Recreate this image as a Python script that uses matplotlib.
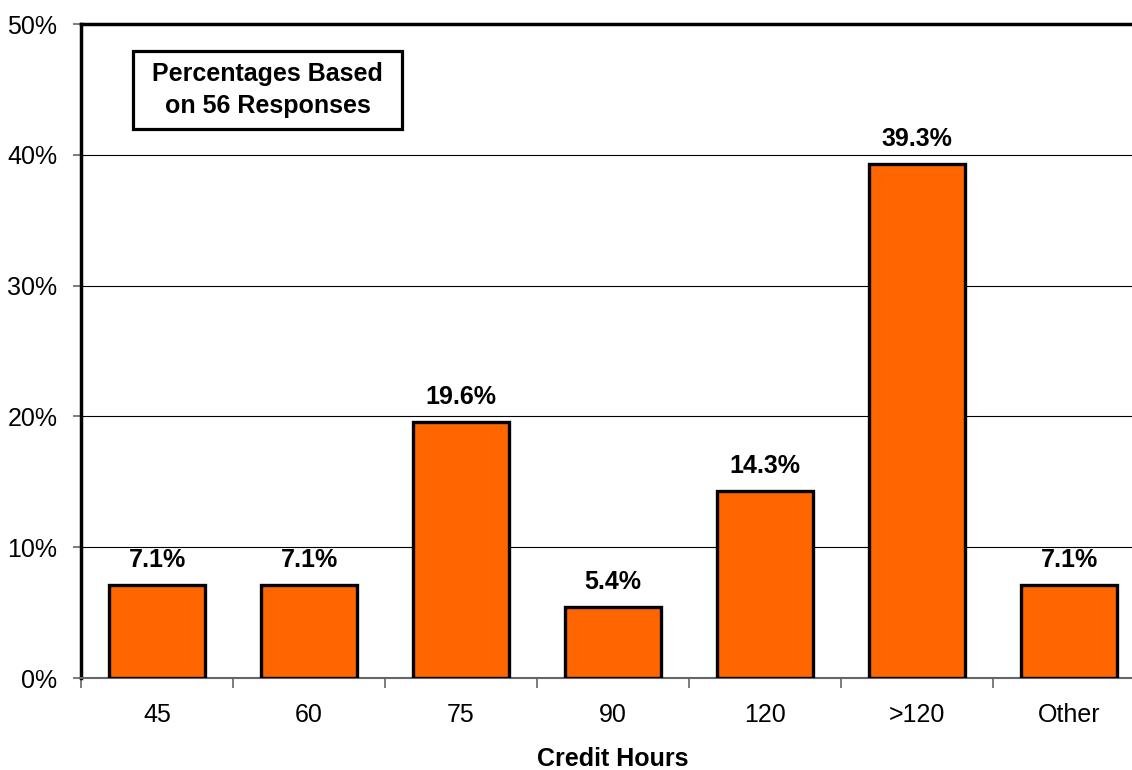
import numpy as np
import matplotlib.pyplot as plt
from matplotlib.patches import Rectangle

categories = ["45", "60", "75", "90", "120", ">120", "Other"]
values = [7.1, 7.1, 19.6, 5.4, 14.3, 39.3, 7.1]
y_ticks = [0, 10, 20, 30, 40, 50]

plt.rcParams['font.family'] = ['Liberation Sans', 'DejaVu Sans']

W, H = 1132, 770
fig = plt.figure(figsize=(W / 100, H / 100), dpi=100)
# axes runs past the right edge, as in the original
left, right, top, bottom = 81, 1145, 24, 678
ax = fig.add_axes([left / W, 1 - bottom / H, (right - left) / W, (bottom - top) / H])

x = np.arange(len(categories))
ax.bar(x, values, width=0.63, color="#FF6600", edgecolor="black", linewidth=2.4, zorder=3)

for xi, v in zip(x, values):
    ax.text(xi, v + 1.0, f"{v:.1f}%", ha="center", va="bottom",
            fontsize=18, fontweight="bold", zorder=4)

ax.set_xlim(-0.5, len(categories) - 0.5)
ax.set_ylim(0, 50)
ax.set_yticks(y_ticks)
ax.set_yticklabels([f"{t}%" for t in y_ticks], fontsize=18)
ax.yaxis.grid(True, color="black", linewidth=0.8, zorder=0)

ax.set_xticks(x)
ax.set_xticklabels(categories, fontsize=18)
ax.set_xticks(np.arange(len(categories) + 1) - 0.5, minor=True)
ax.tick_params(axis="x", which="major", length=0, pad=18)
ax.tick_params(axis="x", which="minor", length=7, width=1.2, color="#666666", direction="out")
ax.tick_params(axis="y", length=6, width=1.2, color="#666666", pad=11)

ax.spines["left"].set_linewidth(2.5)
ax.spines["top"].set_linewidth(2.5)
ax.spines["right"].set_visible(False)
ax.spines["bottom"].set_color("#666666")
ax.spines["bottom"].set_linewidth(1.5)

# x axis title, centred under the full axes
fig.text((left + right) / 2 / W, 1 - 759 / H, "Credit Hours", ha="center", va="center",
         fontsize=18, fontweight="bold")

# note box
bx, by, bw, bh = 0.0489, 0.8394, 0.2528, 0.1193
ax.add_patch(Rectangle((bx, by), bw, bh, transform=ax.transAxes, facecolor="white",
                       edgecolor="black", linewidth=2.3, zorder=5))
ax.text(bx + bw / 2, by + bh / 2, "Percentages Based\non 56 Responses", transform=ax.transAxes,
        ha="center", va="center", fontsize=18, fontweight="bold", linespacing=1.4, zorder=6)

fig.savefig("out.png", dpi=100)
